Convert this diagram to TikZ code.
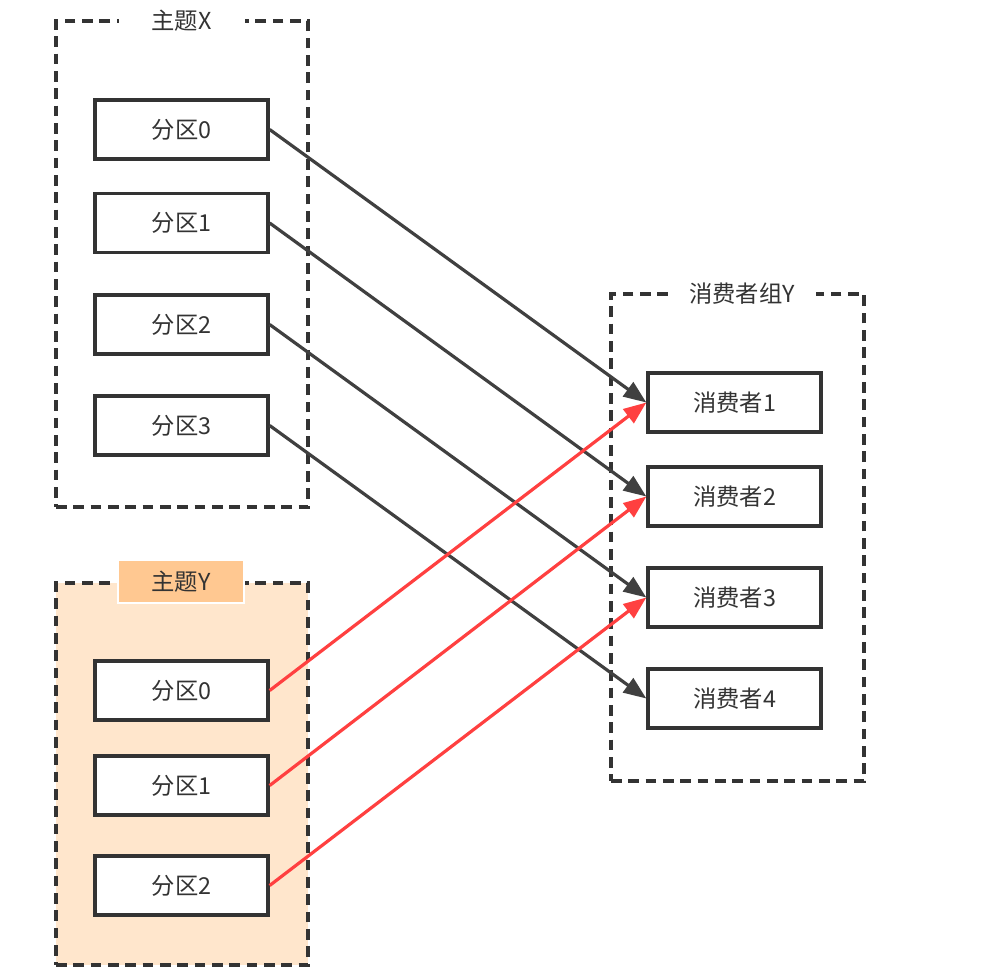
\documentclass[tikz,border=0pt]{standalone}
\usepackage{fontspec}
\setmainfont{Noto Sans CJK SC}
\usetikzlibrary{arrows.meta}
\definecolor{linec}{RGB}{51,51,51}
\definecolor{arrc}{RGB}{64,64,64}
\definecolor{redc}{RGB}{255,64,64}
\definecolor{peach}{RGB}{255,230,204}
\definecolor{peachdark}{RGB}{255,200,145}
\begin{document}
\begin{tikzpicture}[x=0.75pt,y=-0.75pt,
  txt/.style={font=\fontsize{17.5}{20}\selectfont, text=linec},
  part/.style={txt, draw=linec, line width=2.5pt, fill=white, minimum width=129.75pt, minimum height=44.25pt, inner sep=0pt},
  groupbox/.style={draw=linec, line width=2.4pt, dash pattern=on 8pt off 5pt, inner sep=0pt},
  title/.style={txt, fill=white, minimum width=94.5pt, minimum height=20pt, inner sep=0pt},
  blackarrow/.style={draw=arrc, line width=2.4pt, -{Triangle[length=17pt,width=13pt]}},
  redarrow/.style={draw=redc, line width=2.4pt, -{Triangle[length=17pt,width=13pt]}}
]
\useasboundingbox (0,0) rectangle (993,976);
% groups
\node[groupbox, minimum width=189pt, minimum height=364.5pt] (topX) at (182,264) {};
\node[groupbox, fill=peach, minimum width=189pt, minimum height=286.5pt] (topY) at (182,774) {};
\node[groupbox, minimum width=189.75pt, minimum height=365.25pt] (grp) at (737.5,537.5) {};
% titles
\node[title] (tX) at (181.5,21) {主题X};
\node[txt, fill=peachdark, draw=white, line width=1.5pt, minimum width=94.5pt, minimum height=32.25pt, inner sep=0pt] (tY) at (181,581.5) {主题Y};
\node[title, minimum width=111pt] (tG) at (742,294) {消费者组Y};
% partitions X
\node[part] (x0) at (181.5,129.5) {分区0};
\node[part] (x1) at (181.5,223) {分区1};
\node[part] (x2) at (181.5,324.5) {分区2};
\node[part] (x3) at (181.5,425.5) {分区3};
% partitions Y
\node[part] (y0) at (181.5,690.5) {分区0};
\node[part] (y1) at (181.5,785.5) {分区1};
\node[part] (y2) at (181.5,885.5) {分区2};
% consumers
\node[part] (c1) at (734.5,402.5) {消费者1};
\node[part] (c2) at (734.5,496.5) {消费者2};
\node[part] (c3) at (734.5,597.5) {消费者3};
\node[part] (c4) at (734.5,698.5) {消费者4};
% arrows
\draw[blackarrow] (x0.east) -- (c1.west);
\draw[blackarrow] (x1.east) -- (c2.west);
\draw[blackarrow] (x2.east) -- (c3.west);
\draw[blackarrow] (x3.east) -- (c4.west);
\draw[redarrow] (y0.east) -- (c1.west);
\draw[redarrow] (y1.east) -- (c2.west);
\draw[redarrow] (y2.east) -- (c3.west);
\end{tikzpicture}
\end{document}
